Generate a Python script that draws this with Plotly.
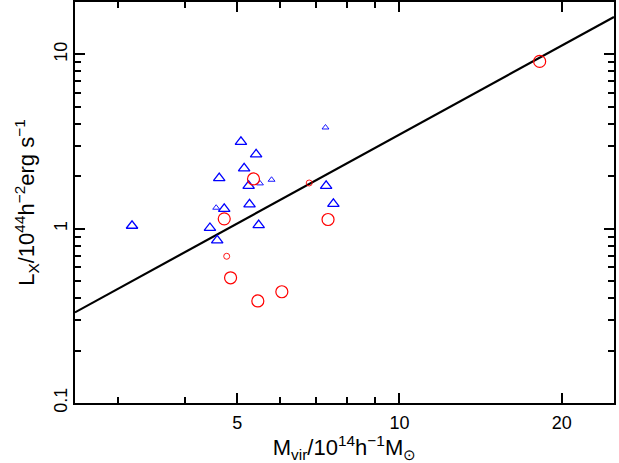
import plotly.graph_objects as go

# Large blue triangles
tri_big_mass = [3.19, 5.08, 5.42, 5.15, 4.63, 5.25, 4.73, 5.27, 4.45, 4.59, 5.48, 7.31, 7.54]
tri_big_lx = [1.04, 3.15, 2.67, 2.22, 1.95, 1.76, 1.30, 1.38, 1.01, 0.857, 1.05, 1.76, 1.39]
# Small blue triangles
tri_small_mass = [7.29, 4.57, 5.51, 5.79]
tri_small_lx = [3.81, 1.32, 1.82, 1.91]
# Large red circles
circ_big_mass = [5.36, 4.73, 7.37, 4.86, 6.05, 5.46, 18.2]
circ_big_lx = [1.93, 1.14, 1.13, 0.523, 0.435, 0.385, 9.12]
# Small red circles
circ_small_mass = [6.80, 4.78]
circ_small_lx = [1.83, 0.695]
# Fitted relation (end points)
fit_mass = [2.5, 25]
fit_lx = [0.331, 16.4]

x_major = [5, 10, 20]
x_major_text = ["5", "10", "20"]
x_minor = [3, 4, 6, 7, 8, 9]
y_major = [0.1, 1, 10]
y_major_text = ["0.1", "1", "10"]
y_minor = [0.2, 0.3, 0.4, 0.5, 0.6, 0.7, 0.8, 0.9, 2, 3, 4, 5, 6, 7, 8, 9]

FONT = "Liberation Sans, Arial, Helvetica, sans-serif"

fig = go.Figure()
fig.add_trace(go.Scatter(x=fit_mass, y=fit_lx, mode="lines",
                         line=dict(color="black", width=2.2)))
fig.add_trace(go.Scatter(x=tri_big_mass, y=tri_big_lx, mode="markers",
                         marker=dict(symbol="triangle-up-open", size=10,
                                     color="blue", line=dict(color="blue", width=1.3))))
fig.add_trace(go.Scatter(x=tri_small_mass, y=tri_small_lx, mode="markers",
                         marker=dict(symbol="triangle-up-open", size=6,
                                     color="blue", line=dict(color="blue", width=0.9))))
fig.add_trace(go.Scatter(x=circ_big_mass, y=circ_big_lx, mode="markers",
                         marker=dict(symbol="circle-open", size=12,
                                     color="red", line=dict(color="red", width=1.2))))
fig.add_trace(go.Scatter(x=circ_small_mass, y=circ_small_lx, mode="markers",
                         marker=dict(symbol="circle-open", size=6,
                                     color="red", line=dict(color="red", width=0.9))))

fig.update_layout(
    width=619, height=463,
    margin=dict(l=75, r=5, t=2, b=60, autoexpand=False),
    paper_bgcolor="white", plot_bgcolor="white",
    showlegend=False,
    font=dict(family=FONT, size=18, color="black"),
    xaxis=dict(
        type="log", range=[0.398, 1.398], automargin=False,
        tickmode="array", tickvals=x_major, ticktext=x_major_text,
        ticks="inside", ticklen=10, tickwidth=1.5, tickcolor="black",
        showline=True, linecolor="black", linewidth=2, mirror="allticks",
        showgrid=False, zeroline=False,
        tickfont=dict(size=18), ticklabelstandoff=2,
        minor=dict(tickmode="array", tickvals=x_minor, ticks="inside",
                   ticklen=6, tickwidth=1.5, tickcolor="black", showgrid=False),
        title=dict(text="M<sub>vir</sub>/10<sup>14</sup>h<sup>−1</sup>M<sub>⊙</sub>",
                   font=dict(size=22), standoff=3),
    ),
    yaxis=dict(
        type="log", range=[-1, 1.301], automargin=False,
        tickmode="array", tickvals=y_major, ticktext=y_major_text,
        ticks="inside", ticklen=10, tickwidth=1.5, tickcolor="black",
        showline=True, linecolor="black", linewidth=2, mirror="allticks",
        showgrid=False, zeroline=False,
        tickangle=-90, tickfont=dict(size=18), ticklabelstandoff=-1,
        minor=dict(tickmode="array", tickvals=y_minor, ticks="inside",
                   ticklen=6, tickwidth=1.5, tickcolor="black", showgrid=False),
        title=dict(text="L<sub>X</sub>/10<sup>44</sup>h<sup>−2</sup>erg s<sup>−1</sup>",
                   font=dict(size=22), standoff=10),
    ),
)

fig.write_html("out.html", config={"displayModeBar": False},
               post_script="document.body.style.margin='0';document.body.style.padding='0';")
